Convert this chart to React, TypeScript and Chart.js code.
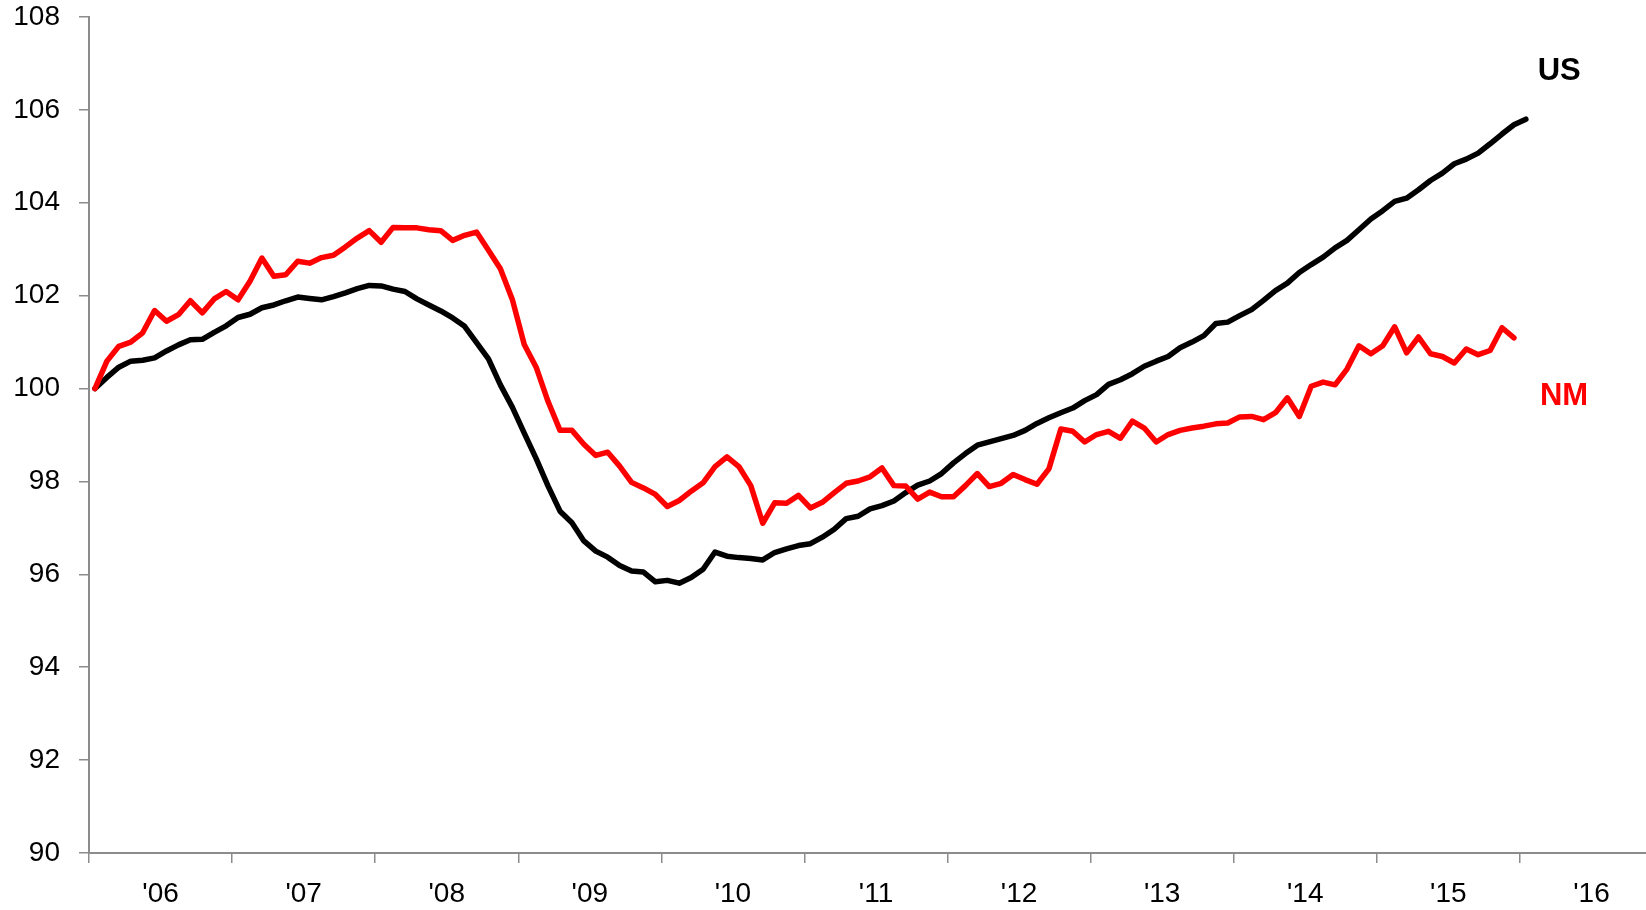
import React, { useEffect, useRef } from 'react';
import { Chart, registerables } from 'chart.js';

Chart.register(...registerables);

// Year tick labels on the x axis (each year = 12 monthly categories, Jan 2006 onward)
const yearLabels = ["'06", "'07", "'08", "'09", "'10", "'11", "'12", "'13", "'14", "'15", "'16"];
const monthsPerYear = 12;

// Monthly index values, Jan 2006 = 100
const usValues = [
  100.0, 100.24, 100.46, 100.59, 100.61, 100.66, 100.81, 100.94, 101.05, 101.06, 101.21, 101.35,
  101.53, 101.6, 101.74, 101.8, 101.89, 101.97, 101.94, 101.91, 101.98, 102.06, 102.15, 102.22,
  102.21, 102.14, 102.09, 101.93, 101.8, 101.67, 101.52, 101.34, 100.99, 100.64, 100.08, 99.6,
  99.04, 98.49, 97.9, 97.36, 97.11, 96.72, 96.5, 96.37, 96.19, 96.07, 96.05, 95.84,
  95.87, 95.81, 95.93, 96.11, 96.48, 96.39, 96.36, 96.34, 96.31, 96.47, 96.55, 96.62,
  96.66, 96.8, 96.97, 97.2, 97.25, 97.41, 97.48, 97.58, 97.76, 97.92, 98.01, 98.17,
  98.4, 98.6, 98.78, 98.85, 98.92, 98.99, 99.1, 99.25, 99.37, 99.48, 99.58, 99.74,
  99.87, 100.09, 100.19, 100.32, 100.48, 100.59, 100.69, 100.88, 101.0, 101.14, 101.4, 101.43,
  101.57, 101.7, 101.9, 102.11, 102.27, 102.5, 102.67, 102.83, 103.03, 103.19, 103.42, 103.65,
  103.83, 104.03, 104.1, 104.28, 104.48, 104.64, 104.84, 104.94, 105.07, 105.27, 105.48, 105.68,
  105.8,
];

const nmValues = [
  100.0, 100.59, 100.91, 101.0, 101.2, 101.68, 101.45, 101.59, 101.89, 101.63, 101.93, 102.09,
  101.91, 102.31, 102.81, 102.42, 102.45, 102.74, 102.7, 102.82, 102.87, 103.05, 103.24, 103.4,
  103.15, 103.47, 103.46, 103.46, 103.42, 103.4, 103.19, 103.3, 103.37, 102.98, 102.58, 101.92,
  100.95, 100.46, 99.72, 99.1, 99.1, 98.8, 98.56, 98.63, 98.33, 97.98, 97.86, 97.72,
  97.46, 97.59, 97.79, 97.97, 98.32, 98.53, 98.32, 97.91, 97.1, 97.54, 97.53, 97.7,
  97.43, 97.55, 97.76, 97.96, 98.01, 98.1, 98.29, 97.91, 97.9, 97.62, 97.77, 97.67,
  97.67, 97.91, 98.17, 97.89, 97.96, 98.15, 98.04, 97.94, 98.27, 99.13, 99.08, 98.85,
  99.01, 99.08, 98.93, 99.3, 99.15, 98.85, 99.01, 99.1, 99.15, 99.19, 99.24, 99.26,
  99.39, 99.4, 99.33, 99.48, 99.8, 99.4, 100.05, 100.14, 100.08, 100.42, 100.92, 100.75,
  100.92, 101.33, 100.77, 101.11, 100.75, 100.69, 100.55, 100.85, 100.73, 100.82, 101.31, 101.09,
];

const seriesNames = ['US', 'NM'];
// Where each series name is written, in data coordinates (month index, index value)
const nameAnchorX = [122.8, 123.2];
const nameAnchorY = [106.83, 99.82];

const yMin = 90;
const yMax = 108;
const yStep = 2;

export default function App() {
  const canvasRef = useRef<HTMLCanvasElement | null>(null);

  useEffect(() => {
    const canvas = canvasRef.current;
    if (!canvas) return;

    const totalMonths = yearLabels.length * monthsPerYear;
    const boundaries = [...yearLabels.map((_, k) => k * monthsPerYear - 0.5), totalMonths - 0.5];
    const yearCenters = yearLabels.map((_, k) => k * monthsPerYear + (monthsPerYear - 1) / 2);

    const colors = ['#000000', '#ff0000'];
    const tickFont = { family: "'Liberation Sans', Arial, sans-serif", size: 28 };
    const axisGray = '#8c8c8c';

    const nameLabels = {
      id: 'nameLabels',
      afterDatasetsDraw(chart: any) {
        const ctx = chart.ctx;
        const xs = chart.scales.x;
        const ys = chart.scales.y;
        ctx.save();
        ctx.font = "bold 31px 'Liberation Sans', Arial, sans-serif";
        ctx.textAlign = 'center';
        ctx.textBaseline = 'middle';
        seriesNames.forEach((name, i) => {
          ctx.fillStyle = colors[i];
          ctx.fillText(name, xs.getPixelForValue(nameAnchorX[i]), ys.getPixelForValue(nameAnchorY[i]));
        });
        ctx.restore();
      },
    };

    const chart = new Chart(canvas, {
      type: 'line',
      data: {
        datasets: [
          {
            label: seriesNames[0],
            data: usValues.map((v, i) => ({ x: i, y: v })),
            borderColor: colors[0],
            backgroundColor: colors[0],
            borderWidth: 5.5,
            pointRadius: 0,
            borderCapStyle: 'round',
            borderJoinStyle: 'round',
            tension: 0,
            order: 2,
            xAxisID: 'x',
          },
          {
            label: seriesNames[1],
            data: nmValues.map((v, i) => ({ x: i, y: v })),
            borderColor: colors[1],
            backgroundColor: colors[1],
            borderWidth: 5.5,
            pointRadius: 0,
            borderCapStyle: 'round',
            borderJoinStyle: 'round',
            tension: 0,
            order: 1,
            xAxisID: 'x',
          },
        ],
      },
      options: {
        responsive: false,
        animation: false,
        devicePixelRatio: 1,
        layout: { padding: { top: 17, right: 17, left: 0, bottom: 0 } },
        plugins: {
          legend: { display: false },
          tooltip: { enabled: false },
        },
        scales: {
          x: {
            type: 'linear',
            position: 'bottom',
            bounds: 'data',
            min: -0.5,
            max: totalMonths - 0.5,
            weight: 0,
            afterBuildTicks: (s: any) => {
              s.ticks = boundaries.map((v) => ({ value: v }));
            },
            afterFit: (s: any) => {
              s.height = 10;
              s.paddingLeft = 0;
              s.paddingRight = 0;
            },
            ticks: { display: false },
            grid: {
              drawOnChartArea: false,
              drawTicks: true,
              tickLength: 10,
              color: axisGray,
              lineWidth: 1.5,
            },
            border: { display: true, color: axisGray, width: 2 },
          },
          xl: {
            type: 'linear',
            position: 'bottom',
            bounds: 'data',
            min: -0.5,
            max: totalMonths - 0.5,
            weight: 1,
            afterBuildTicks: (s: any) => {
              s.ticks = yearCenters.map((v) => ({ value: v }));
            },
            afterFit: (s: any) => {
              s.height = 47;
              s.paddingLeft = 0;
              s.paddingRight = 0;
            },
            ticks: {
              autoSkip: false,
              maxRotation: 0,
              minRotation: 0,
              padding: 14,
              color: '#000000',
              font: tickFont,
              callback: (_v: any, i: number) => yearLabels[i],
            },
            grid: { display: false, drawTicks: false },
            border: { display: false },
          },
          y: {
            type: 'linear',
            position: 'left',
            min: yMin,
            max: yMax,
            afterFit: (s: any) => {
              s.width = 89;
              s.paddingTop = 0;
              s.paddingBottom = 0;
            },
            ticks: {
              stepSize: yStep,
              color: '#000000',
              font: tickFont,
              padding: 19,
            },
            grid: {
              drawOnChartArea: false,
              drawTicks: true,
              tickLength: 10,
              color: axisGray,
              lineWidth: 1.5,
            },
            border: { display: true, color: axisGray, width: 2 },
          },
        },
      },
      plugins: [nameLabels],
    } as any);

    return () => {
      chart.destroy();
    };
  }, []);

  return (
    <div
      style={{
        position: 'fixed',
        left: 0,
        top: 0,
        width: 1646,
        height: 910,
        overflow: 'hidden',
        background: '#ffffff',
      }}
    >
      <canvas ref={canvasRef} width={1680} height={910} style={{ display: 'block' }} />
    </div>
  );
}
